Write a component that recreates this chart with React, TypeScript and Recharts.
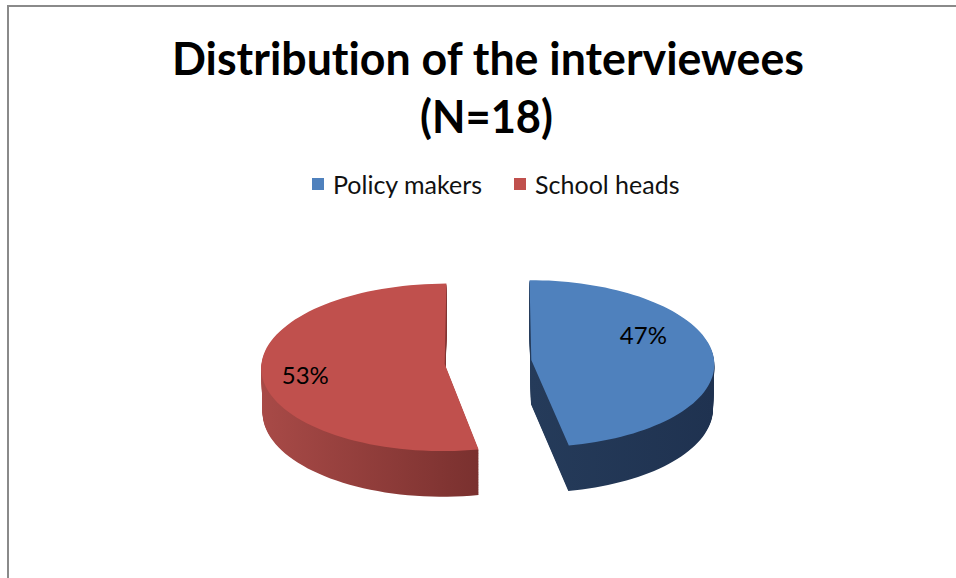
import { PieChart, Pie, Cell, Legend } from "recharts";

const groups = ["Policy makers", "School heads"];
const shares = [47, 53];
const topColors = ["#4F81BD", "#C0504D"];
const sideColors = [
  ["#2B4464", "#1F3250"],
  ["#A84A47", "#5A1F1E"],
];

const data = groups.map((name, i) => ({ name, value: shares[i] }));

// 3d look: tilt of the pie plane, camera distance, thickness, explosion
const SIN = 0.456;
const COS = Math.sqrt(1 - SIN * SIN);
const DIST = 3900;
const DEPTH = 50;
const EXPLODE = 43.5;
const RAD = Math.PI / 180;

const project = (cx: number, cy: number, u: number, v: number, h: number) => {
  const s = DIST / (DIST + v * COS - h * SIN);
  return [cx + u * s, cy - (v * SIN + h * COS) * s];
};

const facePath = (
  cx: number,
  cy: number,
  r: number,
  start: number,
  end: number,
  ox: number,
  oy: number,
  h: number
) => {
  const pts = [project(cx, cy, ox, oy, h)];
  const n = 80;
  for (let i = 0; i <= n; i++) {
    const a = (start + ((end - start) * i) / n) * RAD;
    pts.push(project(cx, cy, ox + r * Math.cos(a), oy + r * Math.sin(a), h));
  }
  return "M" + pts.map((p) => p[0].toFixed(1) + "," + p[1].toFixed(1)).join("L") + "Z";
};

const Slice3D = (props: any) => {
  const { cx, cy, outerRadius, startAngle, endAngle, midAngle, fill, payload } = props;
  const idx = Math.max(0, groups.indexOf(payload?.name ?? props.name));
  const ox = EXPLODE * Math.cos(midAngle * RAD);
  const oy = EXPLODE * Math.sin(midAngle * RAD);
  const gid = "side" + idx;
  const layers = [];
  for (let h = -DEPTH; h < 0; h += 1) {
    layers.push(
      <path key={h} d={facePath(cx, cy, outerRadius, startAngle, endAngle, ox, oy, h)} fill={`url(#${gid})`} />
    );
  }
  return (
    <g>
      <defs>
        <linearGradient id={gid} gradientUnits="userSpaceOnUse" x1={cx + ox - outerRadius} x2={cx + ox + outerRadius} y1={0} y2={0}>
          <stop offset="0%" stopColor={sideColors[idx][0]} />
          <stop offset="100%" stopColor={sideColors[idx][1]} />
        </linearGradient>
      </defs>
      {layers}
      <path d={facePath(cx, cy, outerRadius, startAngle, endAngle, ox, oy, 0)} fill={fill} />
    </g>
  );
};

const renderLabel = (props: any) => {
  const { cx, cy, outerRadius, midAngle, percent } = props;
  const ox = EXPLODE * Math.cos(midAngle * RAD);
  const oy = EXPLODE * Math.sin(midAngle * RAD);
  const a = (midAngle + 12) * RAD;
  const r = outerRadius * 0.72;
  const [x, y] = project(cx, cy, ox + r * Math.cos(a), oy + r * Math.sin(a), 0);
  return (
    <text x={x - 12} y={y - 8} textAnchor="middle" dominantBaseline="central" fontSize={24} fontFamily="Lato" fill="#000">
      {`${Math.round(percent * 100)}%`}
    </text>
  );
};

const LegendBox = () => (
  <div style={{ display: "flex", alignItems: "center", paddingLeft: 312, fontFamily: "Lato", fontSize: 25, color: "#111" }}>
    {groups.map((g, i) => (
      <div key={g} style={{ display: "flex", alignItems: "center", marginRight: 32 }}>
        <span style={{ width: 12, height: 12, background: topColors[i], marginRight: 9, display: "inline-block" }} />
        <span>{g}</span>
      </div>
    ))}
  </div>
);

export default function App() {
  return (
    <div style={{ position: "absolute", left: 0, top: 0, width: 956, height: 578, overflow: "hidden", background: "#fff" }}>
      <div style={{ position: "absolute", left: 7, top: 5, right: 0, bottom: 0, borderTop: "2px solid #8a8a8a", borderLeft: "2px solid #8a8a8a" }} />
      <PieChart width={956} height={578} margin={{ top: 0, right: 0, bottom: 0, left: 0 }}>
        <Legend
          content={<LegendBox />}
          wrapperStyle={{ position: "absolute", top: 169, left: 0, width: 956, height: 32 }}
        />
        <Pie
          data={data}
          dataKey="value"
          nameKey="name"
          cx={488}
          cy={362}
          outerRadius={183}
          startAngle={90}
          endAngle={-270}
          stroke="none"
          isAnimationActive={false}
          shape={Slice3D}
          label={renderLabel}
          labelLine={false}
        >
          {data.map((d, i) => (
            <Cell key={d.name} fill={topColors[i]} />
          ))}
        </Pie>
      </PieChart>
      <svg width={956} height={578} style={{ position: "absolute", left: 0, top: 0, pointerEvents: "none", fontVariantLigatures: "none" }}>
        <text x={488} y={75} textAnchor="middle" fontFamily="Lato" fontWeight="bold" fontSize={46} textLength={632} lengthAdjust="spacingAndGlyphs" fill="#000">
          Distribution of the interviewees
        </text>
        <text x={486.5} y={133} textAnchor="middle" fontFamily="Lato" fontWeight="bold" fontSize={46} textLength={133} lengthAdjust="spacingAndGlyphs" fill="#000">
          (N=18)
        </text>
      </svg>
    </div>
  );
}
